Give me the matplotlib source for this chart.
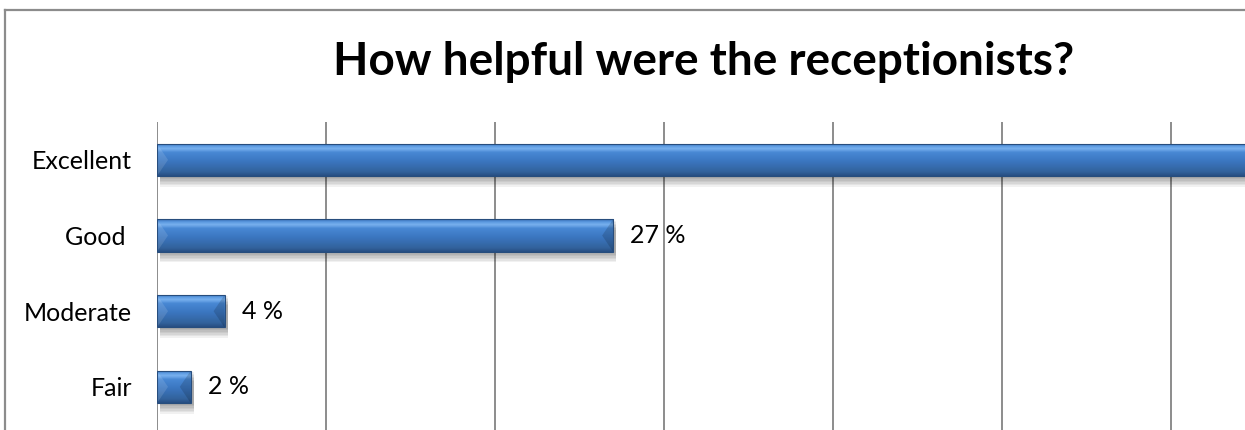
import numpy as np
import matplotlib
matplotlib.use("Agg")
import matplotlib.pyplot as plt
from matplotlib.patches import Polygon, Rectangle
from matplotlib.colors import LinearSegmentedColormap

# survey answers, top to bottom
categories = ["Excellent", "Good ", "Moderate", "Fair"]
percent = [67, 27, 4, 2]
title = "How helpful were the receptionists?"

plt.rcParams["font.family"] = ["Lato", "DejaVu Sans"]

W, H = 1245, 430
fig = plt.figure(figsize=(W / 100, H / 100), dpi=100)

# outer chart frame (runs off the right and bottom edges)
fig.add_artist(plt.Line2D([5 / W, 5 / W], [0, 1 - 10 / H], color="#8c8c8c", lw=1.6))
fig.add_artist(plt.Line2D([5 / W, 1], [1 - 10 / H, 1 - 10 / H], color="#8c8c8c", lw=1.6))

fig.text(704 / W, 1 - 62 / H, title, ha="center", va="center",
         fontsize=33, fontweight="bold", color="black")

xmax = 64.4
ax = fig.add_axes([157 / W, 0, 1 - 157 / W, 1 - 122 / H])
ax.set_xlim(0, xmax)
ax.set_ylim(-0.57, 3.5)
ax.set_facecolor("none")
for s in ax.spines.values():
    s.set_visible(False)

ax.set_xticks(np.arange(0, 70, 10))
ax.tick_params(axis="x", length=0, labelbottom=False)
ax.grid(axis="x", color="#8c8c8c", lw=1.4)
ax.set_axisbelow(True)

ypos = np.arange(len(categories))[::-1]
ax.set_yticks(ypos)
ax.set_yticklabels(categories, fontsize=18)
ax.tick_params(axis="y", length=0, pad=18)

bar_h = 0.43
bars = ax.barh(ypos, percent, height=bar_h, color="#3f7ccb", zorder=3)

grad = LinearSegmentedColormap.from_list("bev", [
    (0.0, "#284f82"), (0.12, "#32629c"), (0.45, "#3b76c0"),
    (0.72, "#4888d4"), (0.84, "#78b1ee"), (0.92, "#5b99e0"), (1.0, "#3a72ba")])
g = np.linspace(0, 1, 64).reshape(-1, 1)

px_x = (W - 157) / xmax          # pixels per percent
px_y = (H - 122) / 4.07          # pixels per category
bx = 11 / px_x                   # bevel depth along x
by = bar_h * 0.5

for b in bars:
    x0, y0 = b.get_x(), b.get_y()
    w, h = b.get_width(), b.get_height()
    # soft shadow under the bar
    for k in range(7):
        off = (k + 1) * 1.5 / px_y
        ax.add_patch(Rectangle((x0 + 3 / px_x, y0 - off), w, h, color="black",
                               alpha=0.055, lw=0, zorder=2))
    im = ax.imshow(g, extent=[x0, x0 + w, y0, y0 + h], origin="lower",
                   aspect="auto", cmap=grad, zorder=3.1, interpolation="bilinear")
    im.set_clip_path(b)
    d = min(bx, w / 2)
    # bevelled ends
    ax.add_patch(Polygon([(x0, y0), (x0 + d, y0 + by), (x0 + d, y0 + h - by), (x0, y0 + h)],
                         closed=True, color="white", alpha=0.12, lw=0, zorder=3.2))
    ax.add_patch(Polygon([(x0 + w, y0), (x0 + w - d, y0 + by), (x0 + w - d, y0 + h - by),
                          (x0 + w, y0 + h)],
                         closed=True, color="black", alpha=0.15, lw=0, zorder=3.2))
    ax.add_patch(Rectangle((x0, y0), w, h, fill=False, ec="#274d7d", lw=0.8, zorder=3.3))
    # value label only where it fits inside the plot
    lx = x0 + w + 17 / px_x
    if lx + 60 / px_x < xmax:
        ax.text(lx, y0 + h / 2, f"{w:g} %", va="center", ha="left",
                fontsize=18, zorder=4)

fig.savefig("out.png", dpi=100)
